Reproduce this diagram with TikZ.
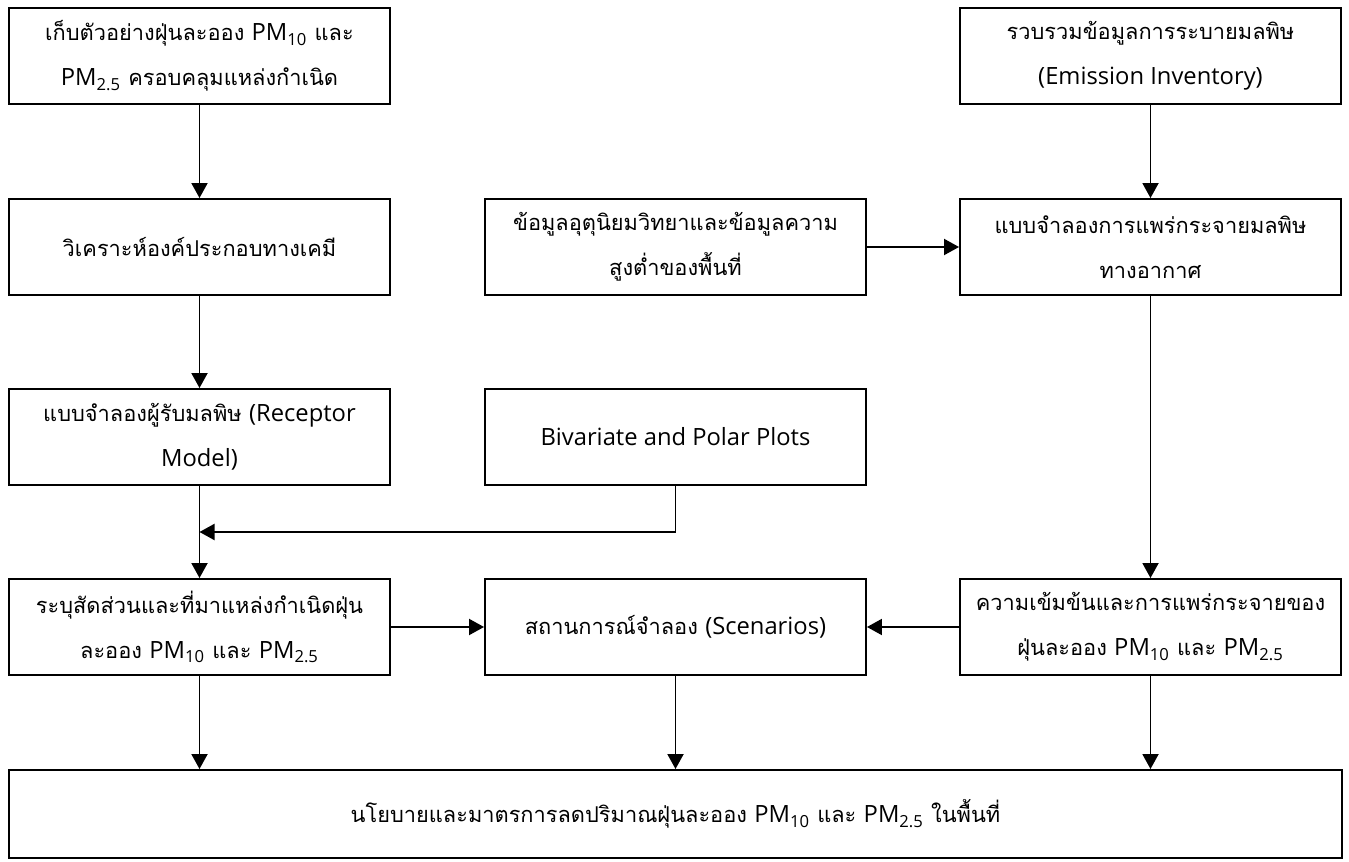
\documentclass[tikz,border=0pt]{standalone}
\usepackage{fontspec}
\setmainfont[Script=Thai]{Loma}
\newfontfamily\latinfont[Scale=1.09]{Open Sans}
\newcommand{\lat}[1]{{\latinfont #1}}
\newcommand{\pmten}{\lat{PM\textsubscript{10}}}
\newcommand{\pmfine}{\lat{PM\textsubscript{2.5}}}
\usepackage{tikz}
\usetikzlibrary{arrows.meta,positioning}

\begin{document}
\begin{tikzpicture}[
    font=\fontsize{12.4}{25.5}\selectfont,
    box/.style={draw, line width=1.1pt, align=center, minimum width=7.62cm, minimum height=1.92cm, inner sep=2pt},
    widebox/.style={draw, line width=1.1pt, align=center, minimum width=26.66cm, minimum height=1.76cm},
    arrow/.style={-{Triangle[length=0.3cm,width=0.32cm]}, line width=1.1pt}
]
\useasboundingbox (0,0) rectangle (26.98,-17.24);

% left column
\node[box] (sampling) at (3.99,-1.12) {เก็บตัวอย่างฝุ่นละออง \pmten{} และ\\\pmfine{} ครอบคลุมแหล่งกำเนิด};
\node[box] (chem) at (3.99,-4.94) {วิเคราะห์องค์ประกอบทางเคมี};
\node[box] (receptor) at (3.99,-8.74) {แบบจำลองผู้รับมลพิษ \lat{(Receptor}\\\lat{Model)}};
\node[box] (apportion) at (3.99,-12.54) {ระบุสัดส่วนและที่มาแหล่งกำเนิดฝุ่น\\ละออง \pmten{} และ \pmfine};

% middle column
\node[box] (meteo) at (13.51,-4.94) {ข้อมูลอุตุนิยมวิทยาและข้อมูลความ\\สูงต่ำของพื้นที่};
\node[box] (bivar) at (13.51,-8.74) {\lat{Bivariate and Polar Plots}};
\node[box] (scenario) at (13.51,-12.54) {สถานการณ์จำลอง \lat{(Scenarios)}};

% right column
\node[box] (inventory) at (23.01,-1.12) {รวบรวมข้อมูลการระบายมลพิษ\\\lat{(Emission Inventory)}};
\node[box] (dispersion) at (23.01,-4.94) {แบบจำลองการแพร่กระจายมลพิษ\\ทางอากาศ};
\node[box] (conc) at (23.01,-12.54) {ความเข้มข้นและการแพร่กระจายของ\\ฝุ่นละออง \pmten{} และ \pmfine};

\node[widebox] (policy) at (13.51,-16.28) {นโยบายและมาตรการลดปริมาณฝุ่นละออง \pmten{} และ \pmfine{} ในพื้นที่};

\coordinate (merge) at (3.99,-10.64);

\draw[arrow] (sampling) -- (chem);
\draw[arrow] (chem) -- (receptor);
\draw[arrow] (receptor) -- (apportion);
\draw[arrow] (bivar.south) |- (merge);
\draw[arrow] (inventory) -- (dispersion);
\draw[arrow] (meteo) -- (dispersion);
\draw[arrow] (dispersion) -- (conc);
\draw[arrow] (apportion) -- (scenario);
\draw[arrow] (conc) -- (scenario);
\draw[arrow] (apportion.south) -- (apportion.south |- policy.north);
\draw[arrow] (scenario.south) -- (scenario.south |- policy.north);
\draw[arrow] (conc.south) -- (conc.south |- policy.north);

\end{tikzpicture}
\end{document}
